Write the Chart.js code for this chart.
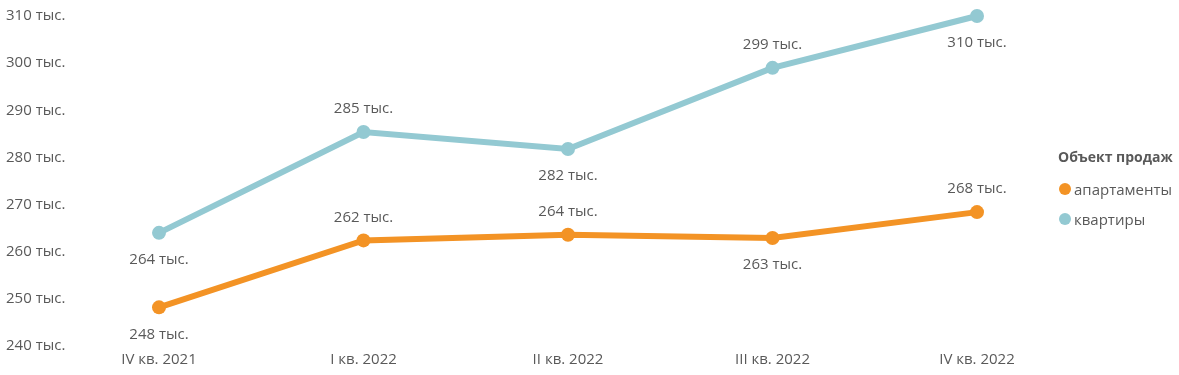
<!DOCTYPE html>
<html>
<head>
<meta charset="utf-8">
<script src="https://cdn.jsdelivr.net/npm/chart.js@4"></script>
<style>
  html, body { margin: 0; padding: 0; background: #fff; }
  .wrap { position: relative; width: 1179px; height: 375px; }
  .legend { position: absolute; left: 1058px; top: 147px; font-family: "Open Sans", sans-serif; color: #595959; font-size: 14px; }
  .legend .title { font-weight: bold; margin-bottom: 8px; }
  .legend .item { display: flex; align-items: center; height: 30px; font-size: 15px; }
  .legend .dot { width: 12px; height: 12px; border-radius: 50%; margin-right: 3px; margin-left: 1px; }
</style>
</head>
<body>
<div class="wrap">
  <canvas id="line" width="1179" height="375"></canvas>
  <div class="legend" id="legend"></div>
</div>
<script>
// данные
var quarters = ["IV кв. 2021", "I кв. 2022", "II кв. 2022", "III кв. 2022", "IV кв. 2022"];
var apartments = [248.2, 262.4, 263.6, 262.9, 268.4];
var flats = [264, 285.4, 281.8, 299, 310];
var seriesNames = ["апартаменты", "квартиры"];
var legendTitle = "Объект продаж";

// где подпись: -1 сверху, 1 снизу
var aptPos = [1, -1, -1, 1, -1];
var flatPos = [1, -1, 1, -1, 1];

const orange = "#F39325";
const blue = "#93C9D2";
const textColor = "#595959";
const fontFamily = "'Open Sans', sans-serif";

// подписи к точкам
const pointLabels = {
  id: "pointLabels",
  afterDatasetsDraw(chart) {
    var ctx = chart.ctx;
    ctx.save();
    ctx.font = "15px " + fontFamily;
    ctx.fillStyle = textColor;
    ctx.textAlign = "center";
    ctx.textBaseline = "middle";
    chart.data.datasets.forEach((ds, i) => {
      var meta = chart.getDatasetMeta(i);
      meta.data.forEach((pt, j) => {
        var off = ds.labelPos[j] < 0 ? -23 : 27;
        ctx.fillText(Math.round(ds.data[j]) + " тыс.", pt.x, pt.y + off);
      });
    });
    ctx.restore();
  },
};

var ctx = document.getElementById("line");
var chart = new Chart(ctx, {
  type: "line",
  data: {
    labels: quarters,
    datasets: [
      {
        label: seriesNames[0],
        data: apartments,
        labelPos: aptPos,
        borderColor: orange,
        backgroundColor: orange,
        borderWidth: 6,
        pointRadius: 7,
        pointHoverRadius: 7,
        pointBorderWidth: 0,
        clip: false,
      },
      {
        label: seriesNames[1],
        data: flats,
        labelPos: flatPos,
        borderColor: blue,
        backgroundColor: blue,
        borderWidth: 6,
        pointRadius: 7,
        pointHoverRadius: 7,
        pointBorderWidth: 0,
        clip: false,
      },
    ],
  },
  options: {
    responsive: false,
    animation: false,
    layout: { padding: { top: 16, right: 202, bottom: 0, left: 6 } },
    plugins: {
      legend: { display: false },
      tooltip: { enabled: false },
    },
    scales: {
      x: {
        grid: { display: false, drawTicks: false },
        border: { display: false },
        ticks: { color: textColor, font: { family: fontFamily, size: 15 }, padding: 5, maxRotation: 0 },
        afterFit: (s) => { s.height = 29; },
      },
      y: {
        min: 240,
        max: 310,
        grid: { display: false, drawTicks: false },
        border: { display: false },
        ticks: {
          stepSize: 10,
          color: textColor,
          font: { family: fontFamily, size: 15 },
          crossAlign: "far",
          padding: 0,
          callback: (v) => v + " тыс.",
        },
        afterFit: (s) => { s.width = 153; },
      },
    },
  },
  plugins: [pointLabels],
});

// легенда
function buildLegend() {
  var box = document.getElementById("legend");
  var html = '<div class="title">' + legendTitle + "</div>";
  chart.data.datasets.forEach((ds) => {
    html += '<div class="item"><span class="dot" style="background:' + ds.borderColor + '"></span>' + ds.label + "</div>";
  });
  box.innerHTML = html;
}
buildLegend();
</script>
</body>
</html>
